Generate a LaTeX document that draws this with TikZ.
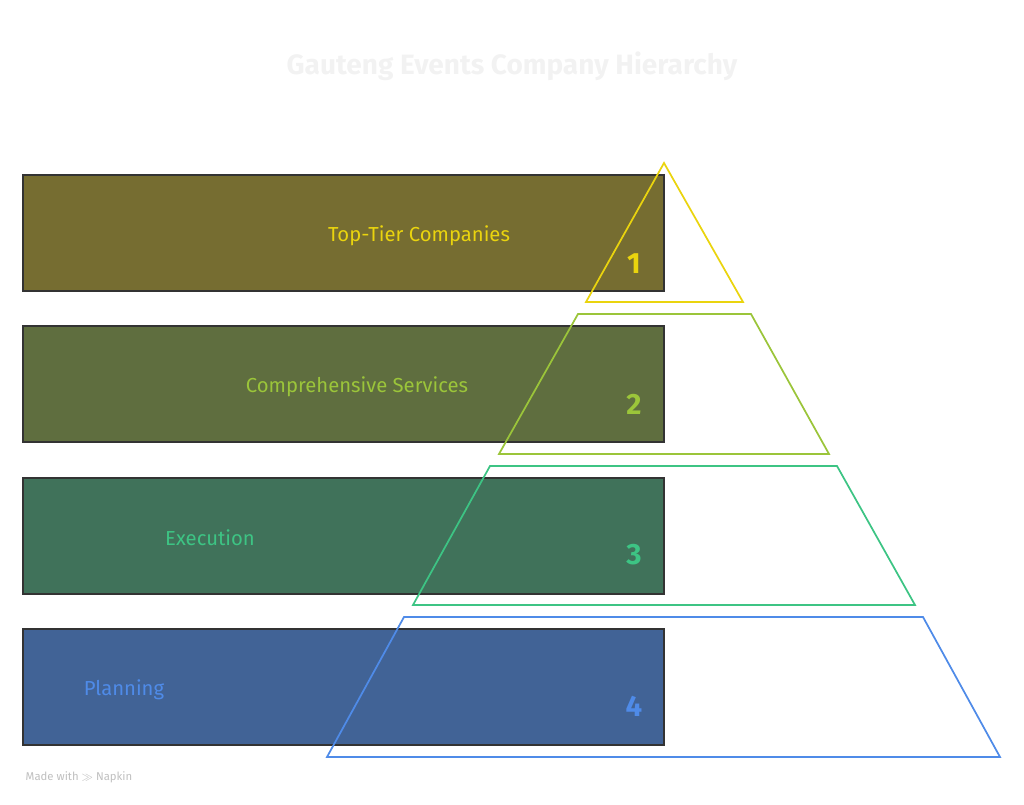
\documentclass[tikz,border=0pt]{standalone}
\usepackage{fontspec}
\setmainfont{Fira Sans}
\definecolor{tierone}{HTML}{EAD40E}
\definecolor{tiertwo}{HTML}{9BC53A}
\definecolor{tierthree}{HTML}{3DC484}
\definecolor{tierfour}{HTML}{4F8BE8}
\definecolor{boxone}{HTML}{766D31}
\definecolor{boxtwo}{HTML}{5F6E3F}
\definecolor{boxthree}{HTML}{40725A}
\definecolor{boxfour}{HTML}{416396}
\tikzset{
	band/.style={draw=black!80, line width=1.1pt},
	layer/.style={line width=1.3pt, line join=miter},
	tiername/.style={font=\fontsize{15.2}{17}\selectfont},
	tiernum/.style={font=\bfseries\fontsize{22}{25}\selectfont}
}
\begin{document}
\begin{tikzpicture}[x=0.75pt, y=-0.75pt]
		\useasboundingbox (0, 0) rectangle (1024, 804);

		\node[font=\bfseries\fontsize{21}{24}\selectfont, text=black!5] (title) at (512, 66) {Gauteng Events Company Hierarchy};

		% bands
		\draw[band, fill=boxone] (23, 175) rectangle (664, 291);
		\draw[band, fill=boxtwo] (23, 326) rectangle (664, 442);
		\draw[band, fill=boxthree] (23, 478) rectangle (664, 594);
		\draw[band, fill=boxfour] (23, 629) rectangle (664, 745);

		% pyramid layers
		\draw[layer, tierone] (664, 163) -- (743, 302) -- (586, 302) -- cycle;
		\draw[layer, tiertwo] (578, 314) -- (751, 314) -- (829, 454) -- (499, 454) -- cycle;
		\draw[layer, tierthree] (490, 466) -- (837, 466) -- (915, 605) -- (413, 605) -- cycle;
		\draw[layer, tierfour] (404, 617) -- (923, 617) -- (1000, 757) -- (327, 757) -- cycle;

		\node[tiername, text=tierone] (top) at (419, 236) {Top-Tier Companies};
		\node[tiername, text=tiertwo] (services) at (357, 387) {Comprehensive Services};
		\node[tiername, text=tierthree] (execution) at (210, 538) {Execution};
		\node[tiername, text=tierfour] (planning) at (124, 690) {Planning};

		\node[tiernum, text=tierone] (one) at (634, 264) {1};
		\node[tiernum, text=tiertwo] (two) at (634, 404) {2};
		\node[tiernum, text=tierthree] (three) at (634, 555) {3};
		\node[tiernum, text=tierfour] (four) at (634, 706) {4};

		\node[anchor=west, font=\fontsize{8.5}{10}\selectfont, text=black!25] (napkin) at (21, 777) {Made with $\gg$ Napkin};
	\end{tikzpicture}
\end{document}
